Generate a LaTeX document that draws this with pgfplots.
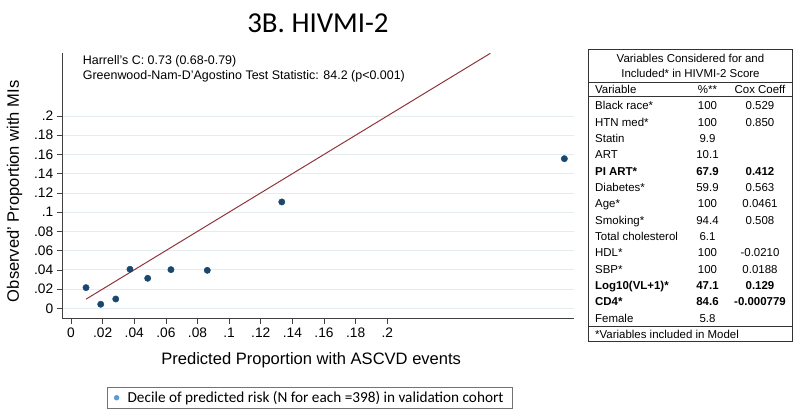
\documentclass[border=0pt]{standalone}
\usepackage{pgfplots}
\pgfplotsset{compat=1.18}
\usepackage{fontspec}
\setmainfont{Liberation Sans}
\newfontfamily\calibri{Carlito}
\definecolor{navy}{HTML}{1A476F}
\definecolor{maroon}{HTML}{90353B}
\definecolor{gridc}{HTML}{E4ECEF}
\definecolor{legdot}{HTML}{5B9BD5}
\newcommand\trow[4]{%
  \node[anchor=base west,inner sep=0] at (595,#1) {#2};
  \node[anchor=base,inner sep=0] at (707.5,#1) {#3};
  \node[anchor=base,inner sep=0] at (760,#1) {#4};}
\begin{document}
\begin{tikzpicture}
\path[use as bounding box] (0,0) rectangle (800bp,419bp);
\begin{axis}[
  at={(62.3bp,100.7bp)}, anchor=south west,
  width=511.7bp, height=265bp, scale only axis,
  xmin=-0.0055, xmax=0.3181, ymin=-0.0104, ymax=0.2652,
  axis x line*=bottom, axis y line*=left,
  axis line style={black!75, line width=0.7pt},
  xtick={0,0.02,0.04,0.06,0.08,0.1,0.12,0.14,0.16,0.18,0.2},
  xticklabels={0,.02,.04,.06,.08,.1,.12,.14,.16,.18,.2},
  ytick={0,0.02,0.04,0.06,0.08,0.1,0.12,0.14,0.16,0.18,0.2},
  yticklabels={0,.02,.04,.06,.08,.1,.12,.14,.16,.18,.2},
  tick align=outside, major tick length=5.5bp,
  tick style={black!75, line width=0.6pt},
  ymajorgrids, grid style={gridc, line width=0.8pt},
  ticklabel style={font=\fontsize{13.8}{16}\selectfont},
  xticklabel style={yshift=-1bp},
  legend style={at={(axis description cs:0.0868,-0.2574)}, anchor=north west,
    draw=black!55, line width=0.6pt, fill=white, inner xsep=4bp, inner ysep=4.6bp,
    nodes={inner sep=0pt},
    font=\calibri\fontsize{15.3}{18}\selectfont},
  legend cell align=left,
  legend image code/.code={\path (-5.3bp,0bp) (10.7bp,0bp); \fill[legdot] (0bp,0bp) circle (2.4bp);},
]
\addlegendimage{legdot}
\addlegendentry{Decile of predicted risk (N for each =398) in validation cohort\hspace*{5bp}}
\addplot[maroon, line width=1pt, forget plot] coordinates {(0.0095,0.0095) (0.2652,0.2652)};
\addplot[only marks, mark=*, mark size=3.2, navy, forget plot] table {
x y
0.0095 0.0215
0.0188 0.0042
0.0283 0.0097
0.0373 0.0406
0.0485 0.0312
0.0632 0.0402
0.0862 0.0395
0.1333 0.1106
0.3120 0.1556
};
\end{axis}
\begin{scope}[shift={(0,419bp)}, x=1bp, y=-1bp]
\node[anchor=base, font=\calibri\fontsize{29}{34}\selectfont, inner sep=0] at (318,33) {3B. HIVMI-2};
\node[anchor=base, font=\fontsize{16.6}{19}\selectfont, inner sep=0] at (311.2,365) {Predicted Proportion with ASCVD events};
\node[anchor=base, rotate=90, font=\fontsize{16.6}{19}\selectfont, inner sep=0] at (18.8,191.3) {Observed’ Proportion with MIs};
\node[anchor=base west, inner sep=0, font=\fontsize{12.5}{14}\selectfont] at (82.7,65) {Harrell’s C: 0.73 (0.68-0.79)};
\node[anchor=base west, inner sep=0, font=\fontsize{12.5}{14}\selectfont] at (82.7,80) {Greenwood-Nam-D’Agostino Test Statistic: 84.2 (p<0.001)};
\begin{scope}[font=\fontsize{11.5}{13}\selectfont]
\draw[black!80, line width=0.6pt] (588.3,49) rectangle (792.7,341.7);
\draw[black!80, line width=0.6pt] (588.3,82.7) -- (792.7,82.7);
\draw[black!80, line width=0.6pt] (588.3,96.7) -- (792.7,96.7);
\draw[black!80, line width=0.6pt] (588.3,326) -- (792.7,326);
\node[anchor=base, inner sep=0] at (690.5,62.3) {Variables Considered for and};
\node[anchor=base, inner sep=0] at (690.5,77.3) {Included* in HIVMI-2 Score};
\trow{93.3}{Variable}{\%**}{Cox Coeff}
\trow{110}{Black race*}{100}{0.529}
\trow{126.33}{HTN med*}{100}{0.850}
\trow{142.67}{Statin}{9.9}{}
\trow{159}{ART}{10.1}{}
\trow{175.33}{\bfseries PI ART*}{\bfseries 67.9}{\bfseries 0.412}
\trow{191.67}{Diabetes*}{59.9}{0.563}
\trow{208}{Age*}{100}{0.0461}
\trow{224.33}{Smoking*}{94.4}{0.508}
\trow{240.67}{Total cholesterol}{6.1}{}
\trow{257}{HDL*}{100}{-0.0210}
\trow{273.33}{SBP*}{100}{0.0188}
\trow{289.67}{\bfseries Log10(VL+1)*}{\bfseries 47.1}{\bfseries 0.129}
\trow{306}{\bfseries CD4*}{\bfseries 84.6}{\bfseries -0.000779}
\trow{322.33}{Female}{5.8}{}
\node[anchor=base west, inner sep=0] at (595,338.3) {*Variables included in Model};
\end{scope}
\end{scope}
\end{tikzpicture}
\end{document}
